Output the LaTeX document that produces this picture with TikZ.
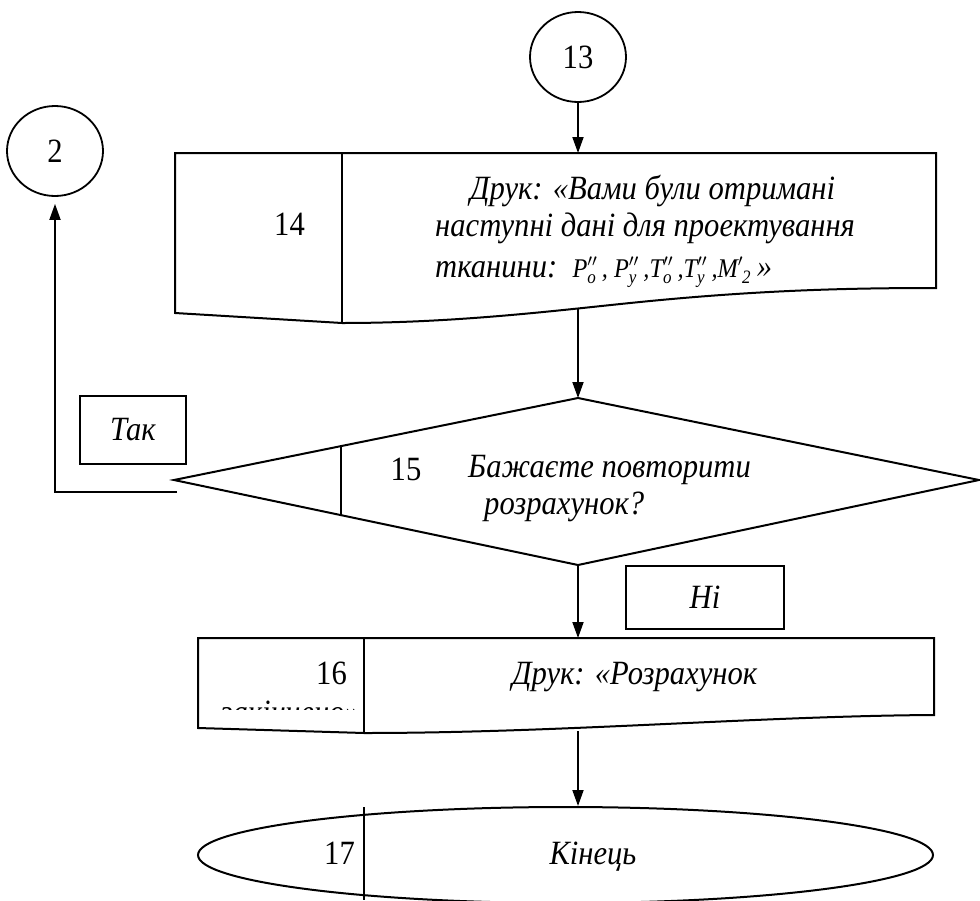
\documentclass[tikz,border=0pt]{standalone}
\usepackage{fontspec}
\setmainfont{Liberation Serif}[FakeStretch=0.9]
\usepackage{amsmath}
\usetikzlibrary{arrows.meta,calc,shapes.geometric}

\newcommand{\sgn}[3]{$\text{#1}^{#2}_{\text{#3}}$}

\tikzset{
    line/.style={line width=2pt},
    arr/.style={line width=1.8pt,-{Triangle[length=16pt,width=11pt]}},
    conn/.style={draw,line width=1.8pt,ellipse,minimum width=96pt,minimum height=90pt,inner sep=0,font=\fontsize{34}{40}\selectfont},
    num/.style={inner sep=0,font=\fontsize{34}{40}\selectfont},
    txt/.style={inner sep=0,font=\fontsize{34}{37}\selectfont\itshape},
    lbl/.style={draw,line width=2pt,inner sep=0,font=\fontsize{34}{40}\selectfont\itshape}
}

\begin{document}
\begin{tikzpicture}[x=1pt,y=-1pt]
    \useasboundingbox (0,0) rectangle (980,900);
    \clip (0,0) rectangle (980,900);

    \node[conn] (c13) at (578,57) {13};
    \node[conn] (c2) at (55,151) {2};

    \coordinate (p14t) at (578,153);
    \coordinate (p14b) at (578,308);
    \draw[line] (175,153) -- (936,153) -- (936,288)
        .. controls (850,288) and (760,290) .. (640,302)
        .. controls (560,310) and (460,323) .. (342,323) -- (175,313) -- cycle;
    \draw[line] (342,153) -- (342,323);
    \node[num,anchor=base east] (n14) at (305,235) {14};
    \node[txt,anchor=north west,align=left] (t14) at (435,175)
        {\hspace*{35pt}Друк: «Вами були отримані\\
         наступні дані для проектування\\[4pt]
         тканини:\ \ {\fontsize{27}{27}\selectfont\sgn{P}{\prime\prime}{о}\,, \sgn{P}{\prime\prime}{у}\,,\sgn{T}{\prime\prime}{о}\,,\sgn{T}{\prime\prime}{у}\,,\sgn{M}{\prime}{\ 2}}\,»};

    \coordinate (d15t) at (578,398);
    \coordinate (d15l) at (174,480);
    \coordinate (d15r) at (979,480);
    \coordinate (d15b) at (578,565);
    \draw[line] (d15t) -- (d15r) -- (d15b) -- (d15l) -- cycle;
    \draw[line] ($(d15l)!0.413!(d15t)$) -- ($(d15l)!0.413!(d15b)$);
    \node[num,anchor=base] (n15) at (406,480) {15};
    \node[txt,anchor=base west] (q15a) at (468,477) {Бажаєте повторити};
    \node[txt,anchor=base west] (q15b) at (484,514) {розрахунок?};
    \coordinate (fb) at ($(d15l)+(3,12)$);

    \node[lbl,minimum width=106pt,minimum height=68pt] (yes) at (133,430) {Так};
    \node[lbl,minimum width=158pt,minimum height=63pt] (no) at (705,597) {Ні};

    \coordinate (p16t) at (578,638);
    \coordinate (p16b) at (578,731);
    \draw[line] (198,638) -- (934,638) -- (934,715)
        .. controls (760,716) and (560,733) .. (364,733) -- (198,728) -- cycle;
    \draw[line] (364,638) -- (364,733);
    \node[num,anchor=base east] (n16) at (347,684) {16};
    \node[txt,anchor=base west] (t16) at (512,684) {Друк: «Розрахунок};
    \begin{scope}
        \clip (200,700) rectangle (362,709);
        \node[txt,anchor=base east] (t16b) at (360,723) {закінчено»};
    \end{scope}

    \node[draw,line width=2pt,ellipse,minimum width=735pt,minimum height=96pt] (e17) at (565.5,855) {};
    \draw[line] (364,807) -- (364,900);
    \node[num,anchor=base east] (n17) at (355,864) {17};
    \node[txt,anchor=base] (t17) at (593,864) {Кінець};

    \draw[arr] (c13) -- (p14t);
    \draw[arr] (p14b) -- (d15t);
    \draw[arr] (d15b) -- (p16t);
    \draw[arr] (p16b) -- (p16b |- e17.north);
    \draw[arr] (fb) -| ([yshift=-7pt]c2.south);
\end{tikzpicture}
\end{document}
